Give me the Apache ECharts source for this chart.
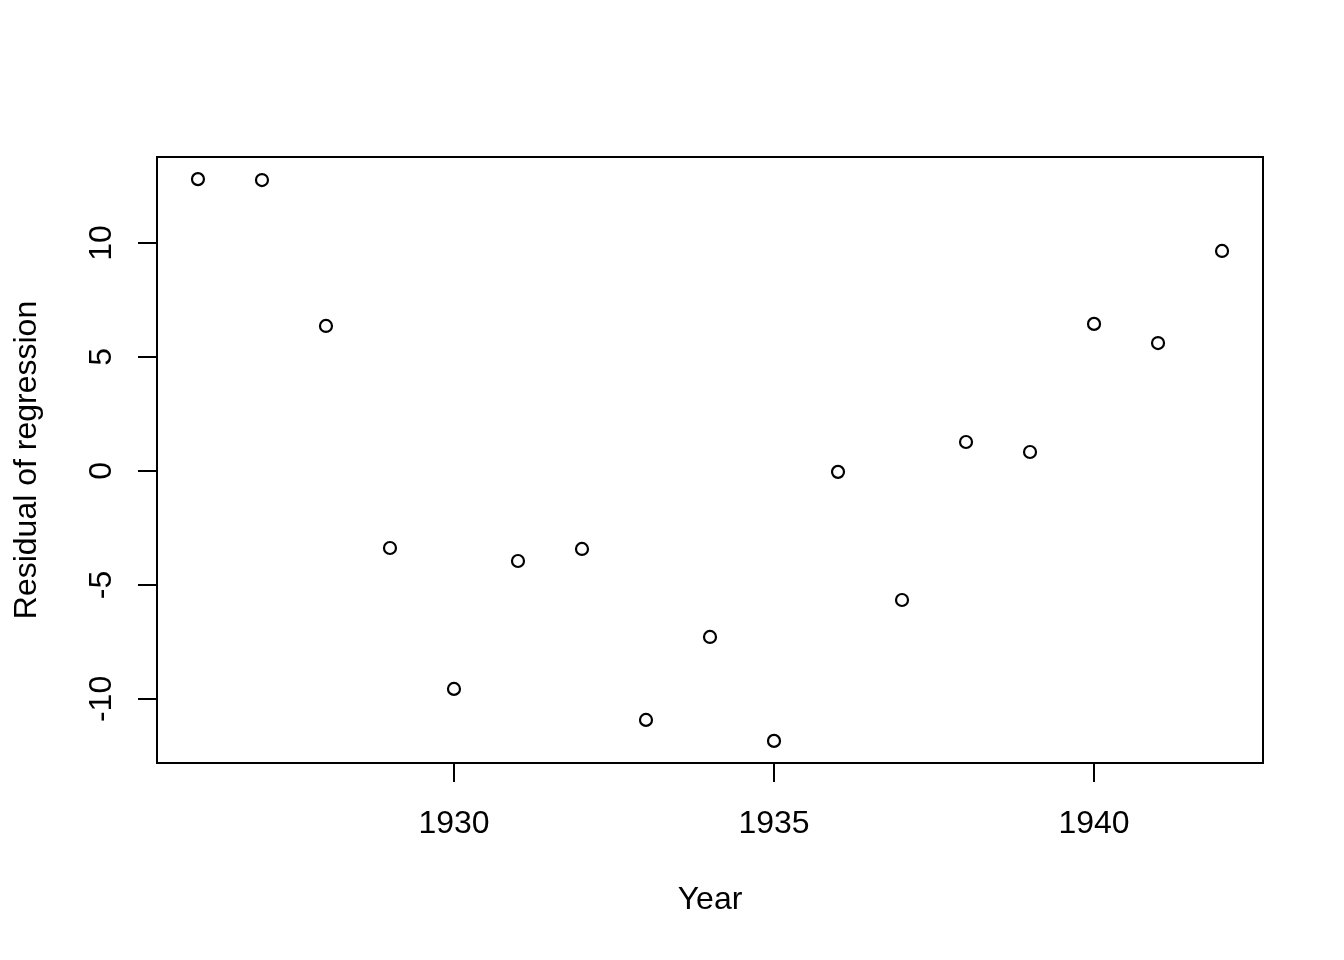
<!DOCTYPE html>
<html>
<head>
<meta charset="utf-8">
<script src="https://cdn.jsdelivr.net/npm/echarts@6/dist/echarts.min.js"></script>
<style>
html,body{margin:0;padding:0;background:#fff;}
#chart{width:1344px;height:960px;}
</style>
</head>
<body>
<div id="chart"></div>
<script>
const years = [1926,1927,1928,1929,1930,1931,1932,1933,1934,1935,1936,1937,1938,1939,1940,1941,1942];
const residuals = [12.8,12.76,6.36,-3.38,-9.56,-3.95,-3.42,-10.92,-7.28,-11.84,-0.04,-5.66,1.27,0.83,6.45,5.61,9.65];
const xTicks = [1930,1935,1940];
const yTicks = [-10,-5,0,5,10];
const xTitle = 'Year';
const yTitle = 'Residual of regression';

const font = 'Liberation Sans, Arial, Helvetica, sans-serif';
const fs = 32;
const chart = echarts.init(document.getElementById('chart'), null, {renderer:'canvas'});
chart.setOption({
  animation:false,
  backgroundColor:'#fff',
  grid:{left:157,right:81,top:157,bottom:197,show:true,borderColor:'#000',borderWidth:2,backgroundColor:'transparent'},
  xAxis:{
    type:'value',min:1925.36,max:1942.64,
    name:xTitle,nameLocation:'middle',nameGap:121,
    nameTextStyle:{fontFamily:font,fontSize:fs,color:'#000'},
    axisLine:{show:false,onZero:false},
    splitLine:{show:false},
    axisTick:{show:true,customValues:xTicks,length:19,lineStyle:{color:'#000',width:2}},
    axisLabel:{customValues:xTicks,margin:45,fontFamily:font,fontSize:fs,color:'#000',formatter:v=>String(v)}
  },
  yAxis:{
    type:'value',min:-12.81,max:13.77,
    name:yTitle,nameLocation:'middle',nameGap:114,nameRotate:90,
    nameTextStyle:{fontFamily:font,fontSize:fs,color:'#000'},
    axisLine:{show:false,onZero:false},
    splitLine:{show:false},
    axisTick:{show:true,customValues:yTicks,length:19,lineStyle:{color:'#000',width:2}},
    axisLabel:{customValues:yTicks,rotate:90,margin:39,fontFamily:font,fontSize:fs,color:'#000',formatter:v=>String(v)}
  },
  series:[{
    type:'scatter',
    data:years.map((y,i)=>[y,residuals[i]]),
    symbol:'circle',symbolSize:12,
    itemStyle:{color:'rgba(255,255,255,0)',borderColor:'#000',borderWidth:2.2,opacity:1}
  }]
});
</script>
</body>
</html>
